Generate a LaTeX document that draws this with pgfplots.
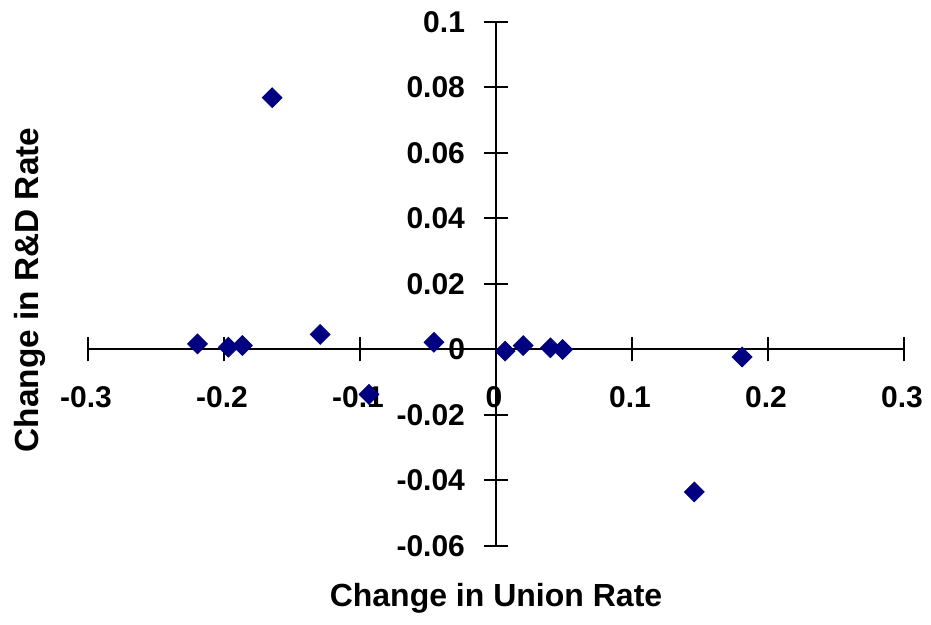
\documentclass[border=0pt]{standalone}
\usepackage{fontspec}
\setmainfont{Liberation Sans}
\usepackage{pgfplots}
\pgfplotsset{compat=1.18}
\definecolor{navy}{RGB}{0,0,128}
\begin{document}
\begin{tikzpicture}
\useasboundingbox (0,0) rectangle (465.5pt,312.5pt);
\begin{axis}[
  at={(44pt,39.5pt)}, anchor=south west,
  scale only axis, width=408pt, height=262pt,
  axis lines=middle, axis line style={-, line width=1pt},
  xmin=-0.3, xmax=0.3, ymin=-0.06, ymax=0.1,
  enlargelimits=false, clip=false,
  xtick={-0.3,-0.2,-0.1,0,0.1,0.2,0.3},
  xticklabels={-0.3,-0.2,-0.1,0,0.1,0.2,0.3},
  ytick={-0.06,-0.04,-0.02,0,0.02,0.04,0.06,0.08,0.1},
  yticklabels={-0.06,-0.04,-0.02,0,0.02,0.04,0.06,0.08,0.1},
  hide obscured x ticks=false, hide obscured y ticks=false,
  tick align=center, major tick length=12pt,
  tick style={line width=1pt, black},
  tick label style={font=\bfseries\fontsize{15}{18}\selectfont},
  xticklabel style={anchor=north, yshift=-9pt, xshift=-1pt},
  yticklabel style={anchor=east, xshift=-6pt},
  xlabel={Change in Union Rate},
  ylabel={Change in R\&D Rate},
  xlabel style={font=\bfseries\fontsize{16}{19}\selectfont, at={(rel axis cs:0.5,-0.0992)}, anchor=center},
  ylabel style={font=\bfseries\fontsize{16.7}{20}\selectfont, at={(rel axis cs:-0.0711,0.4885)}, anchor=center, rotate=90},
]
\addplot[only marks, mark=square*, mark size=3.5pt, color=navy,
  mark options={rotate=45, fill=navy, draw=navy}] coordinates {
(-0.2195, 0.0017)
(-0.1968, 0.0007)
(-0.1865, 0.0012)
(-0.1646, 0.0769)
(-0.1293, 0.0046)
(-0.0934, -0.0137)
(-0.0456, 0.0022)
(0.0067, -0.0005)
(0.0200, 0.0012)
(0.0400, 0.0005)
(0.0490, 0.0000)
(0.1458, -0.0435)
(0.1810, -0.0023)
};
\end{axis}
\end{tikzpicture}
\end{document}
